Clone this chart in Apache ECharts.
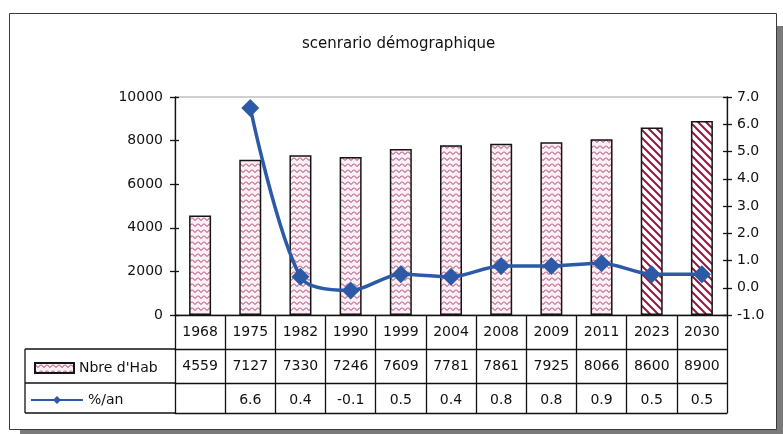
<!DOCTYPE html>
<html>
<head>
<meta charset="utf-8">
<script src="https://cdn.jsdelivr.net/npm/echarts@6/dist/echarts.min.js"></script>
<style>
  html, body { margin: 0; padding: 0; background: #fff; }
  #chart { width: 783px; height: 434px; }
</style>
</head>
<body>
<div id="chart"></div>
<script>
// Census years and projections
const years = ['1968', '1975', '1982', '1990', '1999', '2004', '2008', '2009', '2011', '2023', '2030'];
// Number of inhabitants
const habitants = [4559, 7127, 7330, 7246, 7609, 7781, 7861, 7925, 8066, 8600, 8900];
// Annual growth rate (%)
const tauxAnnuel = [null, 6.6, 0.4, -0.1, 0.5, 0.4, 0.8, 0.8, 0.9, 0.5, 0.5];
// Years that are projections (drawn with diagonal stripes)
const projectionYears = ['2023', '2030'];

const FONT = 'DejaVu Sans';
const TEXT = '#111';

// Zigzag fill for census bars
function zigzagPattern() {
  const c = document.createElement('canvas');
  c.width = 6; c.height = 6;
  const g = c.getContext('2d');
  g.fillStyle = '#fbeef4';
  g.fillRect(0, 0, 6, 6);
  g.strokeStyle = '#a43562';
  g.lineWidth = 1;
  g.beginPath();
  g.moveTo(0, 1.5); g.lineTo(3, 4.5); g.lineTo(6, 1.5);
  g.stroke();
  return c;
}
// Diagonal stripes for projected bars
function stripePattern() {
  const s = 8;
  const c = document.createElement('canvas');
  c.width = s; c.height = s;
  const g = c.getContext('2d');
  g.fillStyle = '#ffffff';
  g.fillRect(0, 0, s, s);
  g.strokeStyle = '#8c1c40';
  g.lineWidth = 2;
  g.beginPath();
  for (const k of [-s, 0, s]) { g.moveTo(k - 1, -1); g.lineTo(k + s + 1, s + 1); }
  g.stroke();
  return c;
}

const zig = { image: zigzagPattern(), repeat: 'repeat' };
const stripes = { image: stripePattern(), repeat: 'repeat' };

const barData = habitants.map((v, i) =>
  projectionYears.includes(years[i]) ? { value: v, itemStyle: { color: stripes } } : v);

const tableLabel = { interval: 0, color: TEXT, fontSize: 14, fontFamily: FONT, margin: 10 };
const tableLine = { show: true, onZero: false, lineStyle: { color: '#111', width: 1.3 } };
const tableTick = len => ({ show: true, interval: 0, length: len, lineStyle: { color: '#111', width: 1.3 } });

const chart = echarts.init(document.getElementById('chart'), null, { renderer: 'canvas' });
chart.setOption({
  animation: false,
  title: {
    text: 'scenrario démographique',
    left: 297, top: 32,
    textStyle: { fontFamily: FONT, fontSize: 15, fontWeight: 'normal', color: TEXT }
  },
  grid: { left: 175, right: 56, top: 97, bottom: 119, show: true, borderColor: '#a0a0a0', borderWidth: 1 },
  legend: [
    {
      data: [{ name: "Nbre d'Hab", icon: 'rect' }],
      left: 29, top: 356, itemWidth: 39, itemHeight: 10, itemGap: 6,
      textStyle: { fontFamily: FONT, fontSize: 14, color: TEXT }
    },
    {
      data: ['%/an'],
      left: 25, top: 388, itemWidth: 52, itemHeight: 10, itemGap: 2,
      textStyle: { fontFamily: FONT, fontSize: 14, color: TEXT }
    }
  ],
  xAxis: [
    {
      type: 'category', data: years, position: 'bottom',
      axisLine: tableLine, axisTick: tableTick(34), axisLabel: tableLabel
    },
    {
      type: 'category', data: habitants.map(String), position: 'bottom', offset: 34,
      axisLine: tableLine, axisTick: tableTick(34), axisLabel: tableLabel
    },
    {
      type: 'category', data: tauxAnnuel.map(v => v == null ? '' : v.toFixed(1)), position: 'bottom', offset: 68,
      axisLine: tableLine, axisTick: tableTick(30), axisLabel: tableLabel
    },
    {
      type: 'category', data: years, position: 'bottom', offset: 98,
      axisLine: tableLine, axisTick: { show: false }, axisLabel: { show: false }
    }
  ],
  yAxis: [
    {
      type: 'value', min: 0, max: 10000, interval: 2000, position: 'left',
      axisLine: { show: true, lineStyle: { color: '#111', width: 1.3 } },
      axisTick: { show: true, length: 5, lineStyle: { color: '#111', width: 1.3 } },
      axisLabel: { color: TEXT, fontSize: 14, fontFamily: FONT, margin: 12, formatter: v => String(v) },
      splitLine: { show: false }
    },
    {
      type: 'value', min: -1, max: 7, interval: 1, position: 'right',
      axisLine: { show: true, onZero: false, lineStyle: { color: '#111', width: 1.3 } },
      axisTick: { show: true, length: 5, lineStyle: { color: '#111', width: 1.3 } },
      axisLabel: { color: TEXT, fontSize: 14, fontFamily: FONT, margin: 10, formatter: v => v.toFixed(1) },
      splitLine: { show: false }
    },
    {
      // inner half of the crossing tick marks
      type: 'value', min: 0, max: 10000, interval: 2000, position: 'left',
      axisLine: { show: false }, axisLabel: { show: false }, splitLine: { show: false },
      axisTick: { show: true, inside: true, length: 4, lineStyle: { color: '#111', width: 1.3 } }
    },
    {
      type: 'value', min: -1, max: 7, interval: 1, position: 'right',
      axisLine: { show: false }, axisLabel: { show: false }, splitLine: { show: false },
      axisTick: { show: true, inside: true, length: 4, lineStyle: { color: '#111', width: 1.3 } }
    }
  ],
  series: [
    {
      name: "Nbre d'Hab", type: 'bar', xAxisIndex: 0, yAxisIndex: 0,
      barWidth: 22, data: barData,
      itemStyle: { color: zig, borderColor: '#151515', borderWidth: 1.5 },
      z: 2
    },
    {
      name: '%/an', type: 'line', xAxisIndex: 0, yAxisIndex: 1,
      data: tauxAnnuel, smooth: 0.3,
      symbol: 'diamond', symbolSize: 18,
      lineStyle: { color: '#2c5aa6', width: 3.5 },
      itemStyle: { color: '#2c5aa6' },
      z: 3
    }
  ],
  graphic: [
    // drop shadow and frame of the chart area
    { type: 'rect', z: -20, shape: { x: 20, y: 26, width: 763, height: 408 }, style: { fill: '#7a7a7a' } },
    { type: 'rect', z: -10, shape: { x: 9.5, y: 13.5, width: 767, height: 416 }, style: { fill: '#fff', stroke: '#3a3a3a', lineWidth: 1 } },
    // left column of the data table (series keys)
    { type: 'line', z: 10, shape: { x1: 25, y1: 349, x2: 175, y2: 349 }, style: { stroke: '#111', lineWidth: 1.3 } },
    { type: 'line', z: 10, shape: { x1: 25, y1: 383, x2: 175, y2: 383 }, style: { stroke: '#111', lineWidth: 1.3 } },
    { type: 'line', z: 10, shape: { x1: 25, y1: 413, x2: 175, y2: 413 }, style: { stroke: '#111', lineWidth: 1.3 } },
    { type: 'line', z: 10, shape: { x1: 25, y1: 349, x2: 25, y2: 413 }, style: { stroke: '#111', lineWidth: 1.3 } }
  ]
});
</script>
</body>
</html>
